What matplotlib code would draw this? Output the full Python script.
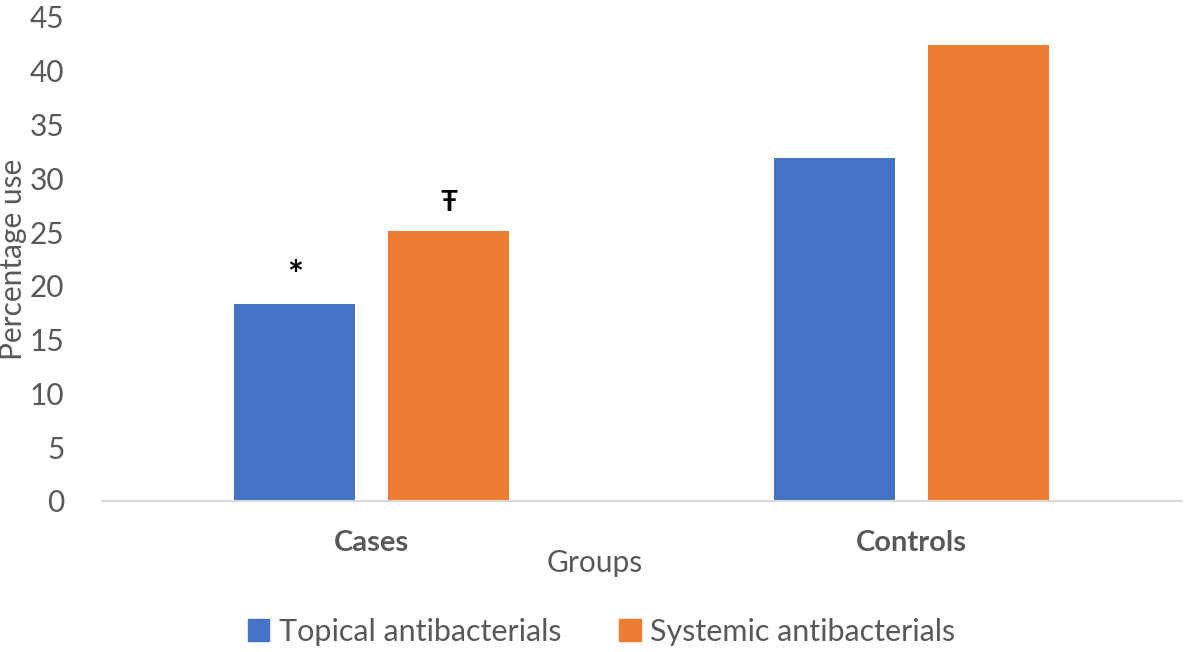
import numpy as np
import matplotlib
matplotlib.use("Agg")
import matplotlib.pyplot as plt
from matplotlib.patches import Patch

# data
groups = ["Cases", "Controls"]
series = ["Topical antibacterials", "Systemic antibacterials"]
topical = [18.3, 31.9]
systemic = [25.1, 42.4]
marks_topical = ["*", ""]
marks_systemic = ["Ŧ", ""]
yticks = [0, 5, 10, 15, 20, 25, 30, 35, 40, 45]

plt.rcParams['font.family'] = ['Lato', 'DejaVu Sans']
grey = "#595959"
colors = ["#4472C4", "#ED7D31"]

fig = plt.figure(figsize=(11.84, 6.52), dpi=100)
ax = fig.add_axes([0.0861, 0.2316, 0.9114, 0.7424])

x = np.arange(len(groups))
w = 0.224
off = 0.1427
ax.bar(x - off, topical, w, color=colors[0])
ax.bar(x + off, systemic, w, color=colors[1])

# significance marks above the Cases bars
for xi, v, m in zip(x, topical, marks_topical):
    if m:
        ax.text(xi - off, v + 0.9, m, ha="center", va="bottom", fontsize=27, fontweight="bold", color="black")
for xi, v, m in zip(x, systemic, marks_systemic):
    if m:
        ax.text(xi + off, v + 1.4, m, ha="center", va="bottom", fontsize=20, fontweight="bold", color="black")

ax.set_xlim(-0.5, 1.5)
ax.set_ylim(0, 45)
ax.set_yticks(yticks)
ax.set_xticks(x)
ax.set_xticklabels(groups, fontsize=21, fontweight="bold", color=grey)
ax.tick_params(axis="y", labelsize=21.5, labelcolor=grey, length=0, pad=27)
ax.tick_params(axis="x", length=0, pad=21)

for s in ["top", "right", "left"]:
    ax.spines[s].set_visible(False)
ax.spines["bottom"].set_color("#d9d9d9")
ax.spines["bottom"].set_linewidth(1.5)

ax.set_ylabel("Percentage use", fontsize=21.5, color=grey)
ax.yaxis.set_label_coords(-0.069, 0.5)
fig.text(0.502, 0.136, "Groups", ha="center", va="center", fontsize=21.5, color=grey)

handles = [Patch(color=c) for c in colors]
fig.legend(handles, series, loc="center", bbox_to_anchor=(0.508, 0.031), ncol=2,
           frameon=False, fontsize=22, labelcolor=grey, handlelength=0.7, handleheight=0.7,
           handletextpad=0.3, columnspacing=1.9)

fig.savefig("out.png", dpi=100, facecolor="white")
